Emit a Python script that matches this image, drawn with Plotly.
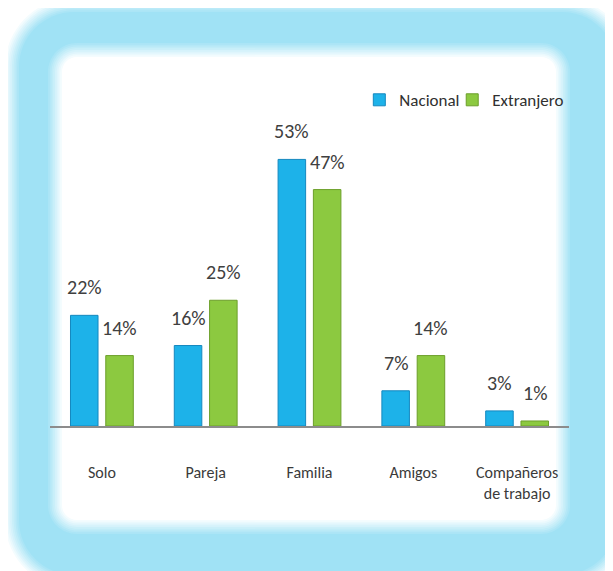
import plotly.graph_objects as go

categories = ["Solo", "Pareja", "Familia", "Amigos", "Compañeros de trabajo"]
tick_labels = ["Solo", "Pareja", "Familia", "Amigos", "Compañeros<br>de trabajo"]
nacional = [22, 16, 53, 7, 3]
extranjero = [14, 25, 47, 14, 1]
series_names = ["Nacional", "Extranjero"]

OFF = 8  # default page body margin
W, H = 613 - OFF, 571 - OFF
L, R, T, B = 50 - OFF, 44, 60 - OFF, 145
PW = W - L - R
PH = H - T - B

FONT = "Carlito, Lato, Liberation Sans, sans-serif"
BLUE = "#1DB2E9"
BLUE_LINE = "#1588BF"
GREEN = "#8CC940"
GREEN_LINE = "#6C9F2A"
FRAME = (160, 226, 245)


def px2paper(x, y):
    # x, y are screen pixels of the reference picture
    return (x - OFF - L) / PW, (H - B - (y - OFF)) / PH


def rrect(x0, y0, x1, y1, r):
    k = 0.5523 * r

    def p(x, y):
        a, b = px2paper(x, y)
        return f"{a:.5f},{b:.5f}"

    s = "M" + p(x0 + r, y0)
    s += " L" + p(x1 - r, y0)
    s += " C" + p(x1 - r + k, y0) + " " + p(x1, y0 + r - k) + " " + p(x1, y0 + r)
    s += " L" + p(x1, y1 - r)
    s += " C" + p(x1, y1 - r + k) + " " + p(x1 - r + k, y1) + " " + p(x1 - r, y1)
    s += " L" + p(x0 + r, y1)
    s += " C" + p(x0 + r - k, y1) + " " + p(x0, y1 - r + k) + " " + p(x0, y1 - r)
    s += " L" + p(x0, y0 + r)
    s += " C" + p(x0, y0 + r - k) + " " + p(x0 + r - k, y0) + " " + p(x0 + r, y0)
    s += " Z"
    return s


def mix(c1, c2, t):
    return "rgb(%d,%d,%d)" % tuple(round(a + (b - a) * t) for a, b in zip(c1, c2))


WHITE = (255, 255, 255)
shapes = []
N = 9
# outer glow edge
ox0, oy0, ox1, oy1, orad = 12, 5, 624, 582, 62
for i in range(N):
    d = -7 + 14 * i / (N - 1)
    shapes.append(dict(type="path", xref="paper", yref="paper", layer="below",
                       path=rrect(ox0 + d, oy0 + d, ox1 - d, oy1 - d, max(orad - d, 5)),
                       fillcolor=mix(WHITE, FRAME, (i + 1) / N), line=dict(width=0)))
# inner white area with soft edge
ix0, iy0, ix1, iy1, irad = 55, 50, 563, 527, 22
for j in range(N):
    d = -7 + 14 * j / (N - 1)
    shapes.append(dict(type="path", xref="paper", yref="paper", layer="below",
                       path=rrect(ix0 + d, iy0 + d, ix1 - d, iy1 - d, max(irad - d, 4)),
                       fillcolor=mix(FRAME, WHITE, (j + 1) / N), line=dict(width=0)))

fig = go.Figure()
fig.add_trace(go.Bar(name=series_names[0], x=categories, y=nacional, legend="legend",
                     marker=dict(color=BLUE, line=dict(color=BLUE_LINE, width=1))))
fig.add_trace(go.Bar(name=series_names[1], x=categories, y=extranjero, legend="legend2",
                     marker=dict(color=GREEN, line=dict(color=GREEN_LINE, width=1))))

slot = PW / len(categories) * (1 - 0.32) / 2
annotations = []
for vals, sh in ((nacional, -slot / 2), (extranjero, slot / 2)):
    for c, v in zip(categories, vals):
        annotations.append(dict(x=c, y=v, xref="x", yref="y", text=f"{v}%",
                                showarrow=False, xshift=sh, yshift=14,
                                yanchor="bottom",
                                font=dict(family=FONT, size=20, color="#404040")))

legend_common = dict(orientation="h", xanchor="left", y=0.89, yanchor="middle",
                     bgcolor="rgba(0,0,0,0)",
                     font=dict(family=FONT, size=17, color="#303030"), itemwidth=30)

fig.update_layout(
    width=W, height=H,
    margin=dict(l=L, r=R, t=T, b=B),
    paper_bgcolor="white", plot_bgcolor="rgba(0,0,0,0)",
    barmode="group", bargap=0.32, bargroupgap=0.22,
    showlegend=True,
    legend=dict(x=0.596, **legend_common),
    legend2=dict(x=0.775, **legend_common),
    shapes=shapes,
    annotations=annotations,
    xaxis=dict(tickmode="array", tickvals=categories, ticktext=tick_labels,
               showline=True, linecolor="#8C8C8C", linewidth=1.5, showgrid=False,
               ticks="", ticklabelstandoff=31,
               tickfont=dict(family=FONT, size=16, color="#3A3A3A"), fixedrange=True),
    yaxis=dict(visible=False, range=[0, PH / 5.03], showgrid=False, zeroline=False),
    font=dict(family=FONT),
)

fig.write_html("out.html")
